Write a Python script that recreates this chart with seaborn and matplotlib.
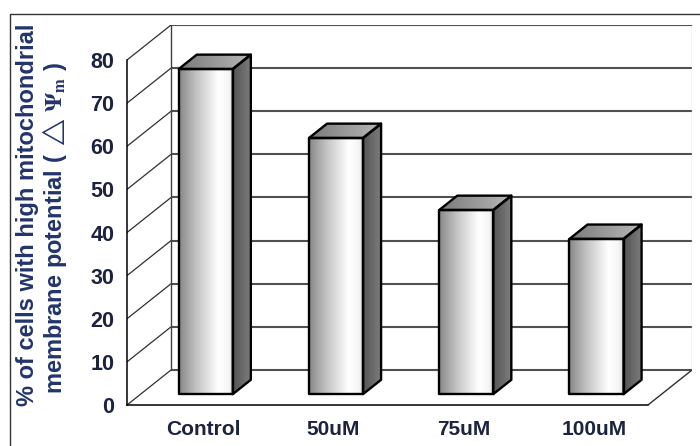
import numpy as np
import pandas as pd
import matplotlib
matplotlib.use("Agg")
import matplotlib.pyplot as plt
import seaborn as sns
from matplotlib.transforms import Affine2D
from matplotlib.patches import Polygon
from matplotlib.lines import Line2D
from matplotlib.colors import LinearSegmentedColormap

# ---- data -------------------------------------------------------------
categories = ["Control", "50uM", "75uM", "100uM"]
values = [75.4, 59.4, 42.7, 36.0]
y_ticks = [0, 10, 20, 30, 40, 50, 60, 70, 80]
ylabel_lines = ["% of cells with high mitochondrial",
                r"membrane potential ( $\triangle\,\mathbf{\Psi}_{\mathbf{m}}$ )"]

# ---- style --------------------------------------------------------------
sns.set_theme(style="white")
plt.rcParams["font.family"] = ["Liberation Sans", "DejaVu Sans"]
plt.rcParams["mathtext.fontset"] = "stix"

TXT = "#1c2340"
LBL = "#22346b"

# 3-D box depth (data units) and bar placement inside the depth
DX, DY = 0.338, 8.12
TF, TB = 0.31, 0.41          # front-face depth, bar thickness (fractions)
YMAX = 80

fig = plt.figure(figsize=(7, 4.46), dpi=100)
ax = fig.add_axes([127 / 700, 41 / 446, 565 / 700, 380 / 446])

df = pd.DataFrame({"dose": categories, "pct": values})
sns.barplot(data=df, x="dose", y="pct", width=0.415, color="white",
            edgecolor="black", linewidth=1.7, ax=ax, zorder=4)

ax.set_xlim(-0.5, len(categories) - 0.5 + DX)
ax.set_ylim(0, YMAX + DY)

# ---- walls & floor --------------------------------------------------------
x0w, x1w = -0.5, len(categories) - 0.5
for v in y_ticks:
    # back-wall gridline
    ax.plot([x0w + DX, x1w + DX], [v + DY, v + DY], color="#505050",
            lw=1.5, zorder=1, solid_capstyle="butt")
    # side-wall diagonal
    ax.plot([x0w, x0w + DX], [v, v + DY], color="#303030", lw=0.9, zorder=1)
ax.plot([x0w + DX, x0w + DX], [DY, YMAX + DY], color="#404040", lw=1.0, zorder=1)
ax.plot([x1w + DX, x1w + DX], [DY, YMAX + DY], color="#c8c8c8", lw=1.0, zorder=1)
ax.plot([x1w, x1w + DX], [0, DY], color="#303030", lw=1.0, zorder=1)

# ---- 3-D bars -------------------------------------------------------------
front_cmap = LinearSegmentedColormap.from_list(
    "front", [(0, "#878787"), (0.3, "#c0c0c0"), (0.72, "#ffffff"),
              (0.9, "#f6f6f6"), (1, "#dcdcdc")])
side_cmap = LinearSegmentedColormap.from_list("side", ["#555555", "#7e7e7e"])
top_cmap = LinearSegmentedColormap.from_list("top", ["#7a7a7a", "#b8b8b8"])
grad = np.linspace(0, 1, 256).reshape(1, -1)

sx, sy = DX * TF, DY * TF
bx, by = DX * TB, DY * TB
shift = Affine2D().translate(sx, sy) + ax.transData

for patch in ax.patches[:len(categories)]:
    x0, w, h = patch.get_x(), patch.get_width(), patch.get_height()
    patch.set_transform(shift)
    patch.set_facecolor("none")
    patch.set_joinstyle("round")
    ax.imshow(grad, cmap=front_cmap, aspect="auto", zorder=3.5,
              extent=[x0 + sx, x0 + w + sx, sy, h + sy])

    xr = x0 + w + sx
    side = Polygon([(xr, sy), (xr + bx, sy + by), (xr + bx, h + sy + by),
                    (xr, h + sy)], closed=True, facecolor="none",
                   edgecolor="black", lw=1.7, joinstyle="round", zorder=4)
    ax.add_patch(side)
    im = ax.imshow(grad, cmap=side_cmap, aspect="auto", zorder=3.5,
                   extent=[xr, xr + bx, sy, h + sy + by])
    im.set_clip_path(side)

    xl = x0 + sx
    top = Polygon([(xl, h + sy), (xr, h + sy), (xr + bx, h + sy + by),
                   (xl + bx, h + sy + by)], closed=True, facecolor="none",
                  edgecolor="black", lw=1.7, joinstyle="round", zorder=4)
    ax.add_patch(top)
    im = ax.imshow(grad, cmap=top_cmap, aspect="auto", zorder=3.5,
                   extent=[xl, xr + bx, h + sy, h + sy + by])
    im.set_clip_path(top)

ax.set_xlim(-0.5, len(categories) - 0.5 + DX)
ax.set_ylim(0, YMAX + DY)

# ---- axes -----------------------------------------------------------------
for s in ["top", "right"]:
    ax.spines[s].set_visible(False)
for s in ["left", "bottom"]:
    ax.spines[s].set_color("black")
    ax.spines[s].set_linewidth(1.1)
    ax.spines[s].set_zorder(2)
ax.spines["left"].set_bounds(0, YMAX)
ax.spines["bottom"].set_bounds(x0w, x1w)

ax.set_yticks(y_ticks)
ax.set_yticklabels([str(t) for t in y_ticks])
ax.tick_params(axis="y", which="major", direction="out", length=5, width=1,
               color="black", pad=4, labelsize=15.5, labelcolor=TXT)
for t in ax.get_yticklabels():
    t.set_fontweight("bold")

ax.set_xticks([i + 0.085 for i in range(len(categories))])
ax.set_xticklabels(categories)
ax.set_xticks(np.arange(-0.5, len(categories)), minor=True)
ax.tick_params(axis="x", which="major", length=0, pad=11, labelsize=15,
               labelcolor=TXT)
ax.tick_params(axis="x", which="minor", direction="out", length=6, width=1,
               color="black")
for t in ax.get_xticklabels():
    t.set_fontweight("bold")

ax.set_xlabel("")
ax.set_ylabel("")
ax.set_facecolor("none")

fig.text(28 / 700, 1 - 215 / 446, ylabel_lines[0], rotation=90, ha="center",
         va="center", fontsize=17, fontweight="bold", color=LBL)
fig.text(55 / 700, 1 - 228 / 446, ylabel_lines[1], rotation=90, ha="center",
         va="center", fontsize=17, fontweight="bold", color=LBL)

# figure frame
fx, fy = 9.5 / 700, 1 - 13.5 / 446
fig.add_artist(Line2D([fx, fx, 1.01], [-0.01, fy, fy],
                      transform=fig.transFigure, color="#333333", lw=1.0))

fig.savefig("out.png", dpi=100)
